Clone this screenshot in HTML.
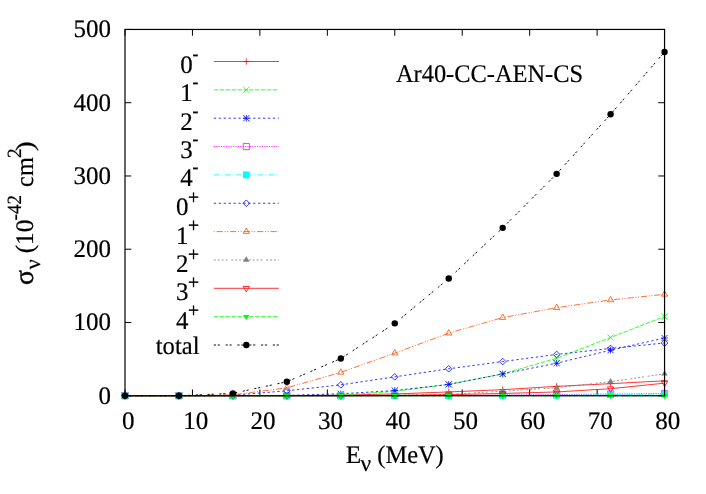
<!DOCTYPE html>
<html><head><meta charset="utf-8"><title>Ar40-CC-AEN-CS</title>
<style>html,body{margin:0;padding:0;background:#fff;}body{width:706px;height:494px;overflow:hidden;font-family:"Liberation Serif",serif;}svg{display:block;will-change:transform;}.t{font-family:"Liberation Serif",serif;font-size:25.3px;fill:#000;text-rendering:geometricPrecision;stroke:#000;stroke-width:0.2px;}.b{stroke-width:0.35px;}</style>
</head><body>
<svg width="706" height="494" viewBox="0 0 706 494">
<rect width="706" height="494" fill="#fff"/>
<g id="gfx">
<path d="M125.00 395.75V389.45M125.00 29.45V35.75M192.44 395.75V389.45M192.44 29.45V35.75M259.89 395.75V389.45M259.89 29.45V35.75M327.33 395.75V389.45M327.33 29.45V35.75M394.77 395.75V389.45M394.77 29.45V35.75M462.22 395.75V389.45M462.22 29.45V35.75M529.66 395.75V389.45M529.66 29.45V35.75M597.11 395.75V389.45M597.11 29.45V35.75M664.55 395.75V389.45M664.55 29.45V35.75M125.00 395.75H131.30M664.55 395.75H658.25M125.00 322.49H131.30M664.55 322.49H658.25M125.00 249.23H131.30M664.55 249.23H658.25M125.00 175.97H131.30M664.55 175.97H658.25M125.00 102.71H131.30M664.55 102.71H658.25M125.00 29.45H131.30M664.55 29.45H658.25" stroke="#000" stroke-width="1" fill="none"/>
<g><polyline points="125.00,395.75 178.95,395.75 232.91,395.75 286.87,395.60 340.82,395.16 394.77,393.92 448.73,391.94 502.68,389.67 556.64,386.37 610.60,383.66 664.55,380.80" fill="none" stroke="#ff0000" stroke-width="0.8"/>
<path d="M213.8 61.50H278.9" fill="none" stroke="#ff0000" stroke-width="0.8"/>
<path d="M121.80 395.75H128.20M125.00 392.55V398.95" stroke="#ff0000" stroke-width="0.8" fill="none"/>
<path d="M175.75 395.75H182.15M178.95 392.55V398.95" stroke="#ff0000" stroke-width="0.8" fill="none"/>
<path d="M229.71 395.75H236.11M232.91 392.55V398.95" stroke="#ff0000" stroke-width="0.8" fill="none"/>
<path d="M283.67 395.60H290.06M286.87 392.40V398.80" stroke="#ff0000" stroke-width="0.8" fill="none"/>
<path d="M337.62 395.16H344.02M340.82 391.96V398.36" stroke="#ff0000" stroke-width="0.8" fill="none"/>
<path d="M391.57 393.92H397.97M394.77 390.72V397.12" stroke="#ff0000" stroke-width="0.8" fill="none"/>
<path d="M445.53 391.94H451.93M448.73 388.74V395.14" stroke="#ff0000" stroke-width="0.8" fill="none"/>
<path d="M499.48 389.67H505.88M502.68 386.47V392.87" stroke="#ff0000" stroke-width="0.8" fill="none"/>
<path d="M553.44 386.37H559.84M556.64 383.17V389.57" stroke="#ff0000" stroke-width="0.8" fill="none"/>
<path d="M607.39 383.66H613.80M610.60 380.46V386.86" stroke="#ff0000" stroke-width="0.8" fill="none"/>
<path d="M661.35 380.80H667.75M664.55 377.60V384.00" stroke="#ff0000" stroke-width="0.8" fill="none"/>
<path d="M243.10 61.50H249.50M246.30 58.30V64.70" stroke="#ff0000" stroke-width="0.8" fill="none"/>
</g>
<g><polyline points="125.00,395.75 178.95,395.75 232.91,395.75 286.87,395.75 340.82,395.16 394.77,391.35 448.73,384.39 502.68,373.92 556.64,358.24 610.60,337.51 664.55,316.48" fill="none" stroke="#00ff00" stroke-width="0.8" stroke-dasharray="4.5 1.4"/>
<path d="M213.8 89.85H278.9" fill="none" stroke="#00ff00" stroke-width="0.8" stroke-dasharray="4.5 1.4"/>
<path d="M121.90 392.65L128.10 398.85M121.90 398.85L128.10 392.65" stroke="#00ff00" stroke-width="0.8" fill="none"/>
<path d="M175.85 392.65L182.05 398.85M175.85 398.85L182.05 392.65" stroke="#00ff00" stroke-width="0.8" fill="none"/>
<path d="M229.81 392.65L236.01 398.85M229.81 398.85L236.01 392.65" stroke="#00ff00" stroke-width="0.8" fill="none"/>
<path d="M283.76 392.65L289.97 398.85M283.76 398.85L289.97 392.65" stroke="#00ff00" stroke-width="0.8" fill="none"/>
<path d="M337.72 392.06L343.92 398.26M337.72 398.26L343.92 392.06" stroke="#00ff00" stroke-width="0.8" fill="none"/>
<path d="M391.67 388.25L397.88 394.45M391.67 394.45L397.88 388.25" stroke="#00ff00" stroke-width="0.8" fill="none"/>
<path d="M445.63 381.29L451.83 387.49M445.63 387.49L451.83 381.29" stroke="#00ff00" stroke-width="0.8" fill="none"/>
<path d="M499.58 370.82L505.78 377.02M499.58 377.02L505.78 370.82" stroke="#00ff00" stroke-width="0.8" fill="none"/>
<path d="M553.54 355.14L559.74 361.34M553.54 361.34L559.74 355.14" stroke="#00ff00" stroke-width="0.8" fill="none"/>
<path d="M607.50 334.41L613.70 340.61M607.50 340.61L613.70 334.41" stroke="#00ff00" stroke-width="0.8" fill="none"/>
<path d="M661.45 313.38L667.65 319.58M661.45 319.58L667.65 313.38" stroke="#00ff00" stroke-width="0.8" fill="none"/>
<path d="M243.20 86.75L249.40 92.95M243.20 92.95L249.40 86.75" stroke="#00ff00" stroke-width="0.8" fill="none"/>
</g>
<g><polyline points="125.00,395.75 178.95,395.75 232.91,395.75 286.87,395.38 340.82,393.77 394.77,390.55 448.73,384.39 502.68,373.92 556.64,363.22 610.60,350.18 664.55,338.02" fill="none" stroke="#0000ff" stroke-width="0.8" stroke-dasharray="2.3 2.62"/>
<path d="M213.8 118.20H278.9" fill="none" stroke="#0000ff" stroke-width="0.8" stroke-dasharray="2.3 2.62"/>
<path d="M121.90 392.65L128.10 398.85M121.90 398.85L128.10 392.65M121.70 395.75H128.30M125.00 392.45V399.05" stroke="#0000ff" stroke-width="0.8" fill="none"/>
<path d="M175.85 392.65L182.05 398.85M175.85 398.85L182.05 392.65M175.65 395.75H182.25M178.95 392.45V399.05" stroke="#0000ff" stroke-width="0.8" fill="none"/>
<path d="M229.81 392.65L236.01 398.85M229.81 398.85L236.01 392.65M229.61 395.75H236.21M232.91 392.45V399.05" stroke="#0000ff" stroke-width="0.8" fill="none"/>
<path d="M283.76 392.28L289.97 398.48M283.76 398.48L289.97 392.28M283.56 395.38H290.17M286.87 392.08V398.68" stroke="#0000ff" stroke-width="0.8" fill="none"/>
<path d="M337.72 390.67L343.92 396.87M337.72 396.87L343.92 390.67M337.52 393.77H344.12M340.82 390.47V397.07" stroke="#0000ff" stroke-width="0.8" fill="none"/>
<path d="M391.67 387.45L397.88 393.65M391.67 393.65L397.88 387.45M391.47 390.55H398.07M394.77 387.25V393.85" stroke="#0000ff" stroke-width="0.8" fill="none"/>
<path d="M445.63 381.29L451.83 387.49M445.63 387.49L451.83 381.29M445.43 384.39H452.03M448.73 381.09V387.69" stroke="#0000ff" stroke-width="0.8" fill="none"/>
<path d="M499.58 370.82L505.78 377.02M499.58 377.02L505.78 370.82M499.38 373.92H505.98M502.68 370.62V377.22" stroke="#0000ff" stroke-width="0.8" fill="none"/>
<path d="M553.54 360.12L559.74 366.32M553.54 366.32L559.74 360.12M553.34 363.22H559.94M556.64 359.92V366.52" stroke="#0000ff" stroke-width="0.8" fill="none"/>
<path d="M607.50 347.08L613.70 353.28M607.50 353.28L613.70 347.08M607.30 350.18H613.89M610.60 346.88V353.48" stroke="#0000ff" stroke-width="0.8" fill="none"/>
<path d="M661.45 334.92L667.65 341.12M661.45 341.12L667.65 334.92M661.25 338.02H667.85M664.55 334.72V341.32" stroke="#0000ff" stroke-width="0.8" fill="none"/>
<path d="M243.20 115.10L249.40 121.30M243.20 121.30L249.40 115.10M243.00 118.20H249.60M246.30 114.90V121.50" stroke="#0000ff" stroke-width="0.8" fill="none"/>
</g>
<g><polyline points="125.00,395.75 178.95,395.75 232.91,395.75 286.87,395.75 340.82,395.75 394.77,395.60 448.73,395.38 502.68,395.02 556.64,394.58 610.60,393.99 664.55,393.55" fill="none" stroke="#ff00ff" stroke-width="0.8" stroke-dasharray="1.2 1.2"/>
<path d="M213.8 146.55H278.9" fill="none" stroke="#ff00ff" stroke-width="0.8" stroke-dasharray="1.2 1.2"/>
<path d="M121.90 392.65H128.10V398.85H121.90Z" stroke="#ff00ff" stroke-width="0.8" fill="none"/>
<path d="M175.85 392.65H182.05V398.85H175.85Z" stroke="#ff00ff" stroke-width="0.8" fill="none"/>
<path d="M229.81 392.65H236.01V398.85H229.81Z" stroke="#ff00ff" stroke-width="0.8" fill="none"/>
<path d="M283.76 392.65H289.97V398.85H283.76Z" stroke="#ff00ff" stroke-width="0.8" fill="none"/>
<path d="M337.72 392.65H343.92V398.85H337.72Z" stroke="#ff00ff" stroke-width="0.8" fill="none"/>
<path d="M391.67 392.50H397.88V398.70H391.67Z" stroke="#ff00ff" stroke-width="0.8" fill="none"/>
<path d="M445.63 392.28H451.83V398.48H445.63Z" stroke="#ff00ff" stroke-width="0.8" fill="none"/>
<path d="M499.58 391.92H505.78V398.12H499.58Z" stroke="#ff00ff" stroke-width="0.8" fill="none"/>
<path d="M553.54 391.48H559.74V397.68H553.54Z" stroke="#ff00ff" stroke-width="0.8" fill="none"/>
<path d="M607.50 390.89H613.70V397.09H607.50Z" stroke="#ff00ff" stroke-width="0.8" fill="none"/>
<path d="M661.45 390.45H667.65V396.65H661.45Z" stroke="#ff00ff" stroke-width="0.8" fill="none"/>
<path d="M243.20 143.45H249.40V149.65H243.20Z" stroke="#ff00ff" stroke-width="0.8" fill="none"/>
</g>
<g><polyline points="125.00,395.75 178.95,395.75 232.91,395.75 286.87,395.75 340.82,395.75 394.77,395.75 448.73,395.60 502.68,395.46 556.64,395.16 610.60,394.65 664.55,394.07" fill="none" stroke="#00ffff" stroke-width="0.8" stroke-dasharray="5.9 2.0 1.0 2.0"/>
<path d="M213.8 174.90H278.9" fill="none" stroke="#00ffff" stroke-width="0.8" stroke-dasharray="5.9 2.0 1.0 2.0"/>
<path d="M121.60 392.35H128.40V399.15H121.60Z" stroke="none" stroke-width="0" fill="#00ffff"/>
<path d="M175.55 392.35H182.35V399.15H175.55Z" stroke="none" stroke-width="0" fill="#00ffff"/>
<path d="M229.51 392.35H236.31V399.15H229.51Z" stroke="none" stroke-width="0" fill="#00ffff"/>
<path d="M283.47 392.35H290.26V399.15H283.47Z" stroke="none" stroke-width="0" fill="#00ffff"/>
<path d="M337.42 392.35H344.22V399.15H337.42Z" stroke="none" stroke-width="0" fill="#00ffff"/>
<path d="M391.38 392.35H398.17V399.15H391.38Z" stroke="none" stroke-width="0" fill="#00ffff"/>
<path d="M445.33 392.20H452.13V399.00H445.33Z" stroke="none" stroke-width="0" fill="#00ffff"/>
<path d="M499.28 392.06H506.08V398.86H499.28Z" stroke="none" stroke-width="0" fill="#00ffff"/>
<path d="M553.24 391.76H560.04V398.56H553.24Z" stroke="none" stroke-width="0" fill="#00ffff"/>
<path d="M607.20 391.25H614.00V398.05H607.20Z" stroke="none" stroke-width="0" fill="#00ffff"/>
<path d="M661.15 390.67H667.95V397.47H661.15Z" stroke="none" stroke-width="0" fill="#00ffff"/>
<path d="M242.90 171.50H249.70V178.30H242.90Z" stroke="none" stroke-width="0" fill="#00ffff"/>
</g>
<g><polyline points="125.00,395.75 178.95,395.75 232.91,395.24 286.87,390.77 340.82,384.83 394.77,376.85 448.73,368.79 502.68,361.54 556.64,354.43 610.60,348.42 664.55,343.00" fill="none" stroke="#0000ff" stroke-width="0.8" stroke-dasharray="2.3 2.62"/>
<path d="M213.8 203.25H278.9" fill="none" stroke="#0000ff" stroke-width="0.8" stroke-dasharray="2.3 2.62"/>
<path d="M125.00 392.45L128.30 395.75L125.00 399.05L121.70 395.75Z" stroke="#0000ff" stroke-width="0.8" fill="none"/>
<path d="M178.95 392.45L182.25 395.75L178.95 399.05L175.65 395.75Z" stroke="#0000ff" stroke-width="0.8" fill="none"/>
<path d="M232.91 391.94L236.21 395.24L232.91 398.54L229.61 395.24Z" stroke="#0000ff" stroke-width="0.8" fill="none"/>
<path d="M286.87 387.47L290.17 390.77L286.87 394.07L283.56 390.77Z" stroke="#0000ff" stroke-width="0.8" fill="none"/>
<path d="M340.82 381.53L344.12 384.83L340.82 388.13L337.52 384.83Z" stroke="#0000ff" stroke-width="0.8" fill="none"/>
<path d="M394.77 373.55L398.07 376.85L394.77 380.15L391.47 376.85Z" stroke="#0000ff" stroke-width="0.8" fill="none"/>
<path d="M448.73 365.49L452.03 368.79L448.73 372.09L445.43 368.79Z" stroke="#0000ff" stroke-width="0.8" fill="none"/>
<path d="M502.68 358.24L505.98 361.54L502.68 364.84L499.38 361.54Z" stroke="#0000ff" stroke-width="0.8" fill="none"/>
<path d="M556.64 351.13L559.94 354.43L556.64 357.73L553.34 354.43Z" stroke="#0000ff" stroke-width="0.8" fill="none"/>
<path d="M610.60 345.12L613.89 348.42L610.60 351.72L607.30 348.42Z" stroke="#0000ff" stroke-width="0.8" fill="none"/>
<path d="M664.55 339.70L667.85 343.00L664.55 346.30L661.25 343.00Z" stroke="#0000ff" stroke-width="0.8" fill="none"/>
<path d="M246.30 199.95L249.60 203.25L246.30 206.55L243.00 203.25Z" stroke="#0000ff" stroke-width="0.8" fill="none"/>
</g>
<g><polyline points="125.00,395.75 178.95,395.75 232.91,394.87 286.87,387.84 340.82,372.38 394.77,353.11 448.73,333.19 502.68,317.58 556.64,307.69 610.60,299.93 664.55,294.36" fill="none" stroke="#ff4d00" stroke-width="0.8" stroke-dasharray="6.2 1.7 1.1 1.5 1.1 1.9" stroke-dashoffset="10.7"/>
<path d="M213.8 231.60H278.9" fill="none" stroke="#ff4d00" stroke-width="0.8" stroke-dasharray="6.2 1.7 1.1 1.5 1.1 1.9" stroke-dashoffset="10.7"/>
<path d="M125.00 392.15L128.15 397.55L121.85 397.55Z" stroke="#ff4d00" stroke-width="0.8" fill="none"/>
<path d="M178.95 392.15L182.10 397.55L175.80 397.55Z" stroke="#ff4d00" stroke-width="0.8" fill="none"/>
<path d="M232.91 391.27L236.06 396.67L229.76 396.67Z" stroke="#ff4d00" stroke-width="0.8" fill="none"/>
<path d="M286.87 384.24L290.01 389.64L283.72 389.64Z" stroke="#ff4d00" stroke-width="0.8" fill="none"/>
<path d="M340.82 368.78L343.97 374.18L337.67 374.18Z" stroke="#ff4d00" stroke-width="0.8" fill="none"/>
<path d="M394.77 349.51L397.92 354.91L391.62 354.91Z" stroke="#ff4d00" stroke-width="0.8" fill="none"/>
<path d="M448.73 329.59L451.88 334.99L445.58 334.99Z" stroke="#ff4d00" stroke-width="0.8" fill="none"/>
<path d="M502.68 313.98L505.83 319.38L499.53 319.38Z" stroke="#ff4d00" stroke-width="0.8" fill="none"/>
<path d="M556.64 304.09L559.79 309.49L553.49 309.49Z" stroke="#ff4d00" stroke-width="0.8" fill="none"/>
<path d="M610.60 296.33L613.75 301.73L607.45 301.73Z" stroke="#ff4d00" stroke-width="0.8" fill="none"/>
<path d="M664.55 290.76L667.70 296.16L661.40 296.16Z" stroke="#ff4d00" stroke-width="0.8" fill="none"/>
<path d="M246.30 228.00L249.45 233.40L243.15 233.40Z" stroke="#ff4d00" stroke-width="0.8" fill="none"/>
</g>
<g><polyline points="125.00,395.75 178.95,395.75 232.91,395.75 286.87,395.75 340.82,395.60 394.77,395.24 448.73,394.36 502.68,391.21 556.64,387.69 610.60,381.68 664.55,373.85" fill="none" stroke="#808080" stroke-width="0.8" stroke-dasharray="2.1 1.8 2.1 1.8 2.1 1.8 2.1 3.65"/>
<path d="M213.8 259.95H278.9" fill="none" stroke="#808080" stroke-width="0.8" stroke-dasharray="2.1 1.8 2.1 1.8 2.1 1.8 2.1 3.65"/>
<path d="M125.00 392.15L128.20 397.45L121.80 397.45Z" stroke="none" stroke-width="0" fill="#808080"/>
<path d="M178.95 392.15L182.15 397.45L175.75 397.45Z" stroke="none" stroke-width="0" fill="#808080"/>
<path d="M232.91 392.15L236.11 397.45L229.71 397.45Z" stroke="none" stroke-width="0" fill="#808080"/>
<path d="M286.87 392.15L290.06 397.45L283.67 397.45Z" stroke="none" stroke-width="0" fill="#808080"/>
<path d="M340.82 392.00L344.02 397.30L337.62 397.30Z" stroke="none" stroke-width="0" fill="#808080"/>
<path d="M394.77 391.64L397.97 396.94L391.57 396.94Z" stroke="none" stroke-width="0" fill="#808080"/>
<path d="M448.73 390.76L451.93 396.06L445.53 396.06Z" stroke="none" stroke-width="0" fill="#808080"/>
<path d="M502.68 387.61L505.88 392.91L499.48 392.91Z" stroke="none" stroke-width="0" fill="#808080"/>
<path d="M556.64 384.09L559.84 389.39L553.44 389.39Z" stroke="none" stroke-width="0" fill="#808080"/>
<path d="M610.60 378.08L613.80 383.38L607.39 383.38Z" stroke="none" stroke-width="0" fill="#808080"/>
<path d="M664.55 370.25L667.75 375.55L661.35 375.55Z" stroke="none" stroke-width="0" fill="#808080"/>
<path d="M246.30 256.35L249.50 261.65L243.10 261.65Z" stroke="none" stroke-width="0" fill="#808080"/>
</g>
<g><polyline points="125.00,395.75 178.95,395.75 232.91,395.75 286.87,395.75 340.82,395.75 394.77,395.38 448.73,394.65 502.68,393.48 556.64,391.94 610.60,388.72 664.55,383.15" fill="none" stroke="#ff0000" stroke-width="0.8"/>
<path d="M213.8 288.30H278.9" fill="none" stroke="#ff0000" stroke-width="0.8"/>
<path d="M125.00 399.35L128.15 393.95L121.85 393.95Z" stroke="#ff0000" stroke-width="0.8" fill="none"/>
<path d="M178.95 399.35L182.10 393.95L175.80 393.95Z" stroke="#ff0000" stroke-width="0.8" fill="none"/>
<path d="M232.91 399.35L236.06 393.95L229.76 393.95Z" stroke="#ff0000" stroke-width="0.8" fill="none"/>
<path d="M286.87 399.35L290.01 393.95L283.72 393.95Z" stroke="#ff0000" stroke-width="0.8" fill="none"/>
<path d="M340.82 399.35L343.97 393.95L337.67 393.95Z" stroke="#ff0000" stroke-width="0.8" fill="none"/>
<path d="M394.77 398.98L397.92 393.58L391.62 393.58Z" stroke="#ff0000" stroke-width="0.8" fill="none"/>
<path d="M448.73 398.25L451.88 392.85L445.58 392.85Z" stroke="#ff0000" stroke-width="0.8" fill="none"/>
<path d="M502.68 397.08L505.83 391.68L499.53 391.68Z" stroke="#ff0000" stroke-width="0.8" fill="none"/>
<path d="M556.64 395.54L559.79 390.14L553.49 390.14Z" stroke="#ff0000" stroke-width="0.8" fill="none"/>
<path d="M610.60 392.32L613.75 386.92L607.45 386.92Z" stroke="#ff0000" stroke-width="0.8" fill="none"/>
<path d="M664.55 386.75L667.70 381.35L661.40 381.35Z" stroke="#ff0000" stroke-width="0.8" fill="none"/>
<path d="M246.30 291.90L249.45 286.50L243.15 286.50Z" stroke="#ff0000" stroke-width="0.8" fill="none"/>
</g>
<g><polyline points="125.00,395.75 178.95,395.75 232.91,395.75 286.87,395.75 340.82,395.75 394.77,395.75 448.73,395.75 502.68,395.75 556.64,395.75 610.60,395.75 664.55,395.75" fill="none" stroke="#00ff00" stroke-width="0.8" stroke-dasharray="4.5 1.4"/>
<path d="M213.8 316.65H278.9" fill="none" stroke="#00ff00" stroke-width="0.8" stroke-dasharray="4.5 1.4"/>
<path d="M125.00 399.35L128.20 394.05L121.80 394.05Z" stroke="none" stroke-width="0" fill="#00ff00"/>
<path d="M178.95 399.35L182.15 394.05L175.75 394.05Z" stroke="none" stroke-width="0" fill="#00ff00"/>
<path d="M232.91 399.35L236.11 394.05L229.71 394.05Z" stroke="none" stroke-width="0" fill="#00ff00"/>
<path d="M286.87 399.35L290.06 394.05L283.67 394.05Z" stroke="none" stroke-width="0" fill="#00ff00"/>
<path d="M340.82 399.35L344.02 394.05L337.62 394.05Z" stroke="none" stroke-width="0" fill="#00ff00"/>
<path d="M394.77 399.35L397.97 394.05L391.57 394.05Z" stroke="none" stroke-width="0" fill="#00ff00"/>
<path d="M448.73 399.35L451.93 394.05L445.53 394.05Z" stroke="none" stroke-width="0" fill="#00ff00"/>
<path d="M502.68 399.35L505.88 394.05L499.48 394.05Z" stroke="none" stroke-width="0" fill="#00ff00"/>
<path d="M556.64 399.35L559.84 394.05L553.44 394.05Z" stroke="none" stroke-width="0" fill="#00ff00"/>
<path d="M610.60 399.35L613.80 394.05L607.39 394.05Z" stroke="none" stroke-width="0" fill="#00ff00"/>
<path d="M664.55 399.35L667.75 394.05L661.35 394.05Z" stroke="none" stroke-width="0" fill="#00ff00"/>
<path d="M246.30 320.25L249.50 314.95L243.10 314.95Z" stroke="none" stroke-width="0" fill="#00ff00"/>
</g>
<g><polyline points="125.00,395.75 178.95,395.75 232.91,393.33 286.87,381.76 340.82,358.53 394.77,323.37 448.73,278.53 502.68,227.84 556.64,173.85 610.60,114.29 664.55,52.01" fill="none" stroke="#000000" stroke-width="0.95" stroke-dasharray="2.2 1.7 2.2 5.7"/>
<path d="M213.8 345.00H278.9" fill="none" stroke="#000000" stroke-width="0.95" stroke-dasharray="2.2 1.7 2.2 5.7"/>
<circle cx="125.00" cy="395.75" r="3.2" fill="#000000"/>
<circle cx="178.95" cy="395.75" r="3.2" fill="#000000"/>
<circle cx="232.91" cy="393.33" r="3.2" fill="#000000"/>
<circle cx="286.87" cy="381.76" r="3.2" fill="#000000"/>
<circle cx="340.82" cy="358.53" r="3.2" fill="#000000"/>
<circle cx="394.77" cy="323.37" r="3.2" fill="#000000"/>
<circle cx="448.73" cy="278.53" r="3.2" fill="#000000"/>
<circle cx="502.68" cy="227.84" r="3.2" fill="#000000"/>
<circle cx="556.64" cy="173.85" r="3.2" fill="#000000"/>
<circle cx="610.60" cy="114.29" r="3.2" fill="#000000"/>
<circle cx="664.55" cy="52.01" r="3.2" fill="#000000"/>
<circle cx="246.30" cy="345.00" r="3.2" fill="#000000"/>
</g>
<rect x="125.0" y="29.45" width="539.55" height="366.30" fill="none" stroke="#000" stroke-width="1.2"/>
</g>
<g class="t" id="txt">
<text id="yt0" transform="translate(110.90 403.65) scale(0.9850 1.0000)" text-anchor="end">0</text>
<text id="yt100" transform="translate(110.90 330.39) scale(0.9850 1.0000)" text-anchor="end">100</text>
<text id="yt200" transform="translate(110.90 257.13) scale(0.9850 1.0000)" text-anchor="end">200</text>
<text id="yt300" transform="translate(110.90 183.87) scale(0.9850 1.0000)" text-anchor="end">300</text>
<text id="yt400" transform="translate(110.90 110.61) scale(0.9850 1.0000)" text-anchor="end">400</text>
<text id="yt500" transform="translate(110.90 37.35) scale(0.9850 1.0000)" text-anchor="end">500</text>
<text id="xt0" transform="translate(128.20 428.60) scale(0.9900 1.0000)" text-anchor="middle">0</text>
<text id="xt10" transform="translate(195.64 428.60) scale(0.9900 1.0000)" text-anchor="middle">10</text>
<text id="xt20" transform="translate(263.09 428.60) scale(0.9900 1.0000)" text-anchor="middle">20</text>
<text id="xt30" transform="translate(330.53 428.60) scale(0.9900 1.0000)" text-anchor="middle">30</text>
<text id="xt40" transform="translate(397.97 428.60) scale(0.9900 1.0000)" text-anchor="middle">40</text>
<text id="xt50" transform="translate(465.42 428.60) scale(0.9900 1.0000)" text-anchor="middle">50</text>
<text id="xt60" transform="translate(532.86 428.60) scale(0.9900 1.0000)" text-anchor="middle">60</text>
<text id="xt70" transform="translate(600.31 428.60) scale(0.9900 1.0000)" text-anchor="middle">70</text>
<text id="xt80" transform="translate(667.75 428.60) scale(0.9900 1.0000)" text-anchor="middle">80</text>
<text id="lg0d" transform="translate(192.80 73.00) scale(0.9850 1.0000)" text-anchor="end">0</text>
<text id="lg0s" transform="translate(192.40 60.00) scale(0.9000 1.0000)" font-size="19.5" class="b">-</text>
<text id="lg1d" transform="translate(192.80 101.35) scale(0.9850 1.0000)" text-anchor="end">1</text>
<text id="lg1s" transform="translate(192.40 88.35) scale(0.9000 1.0000)" font-size="19.5" class="b">-</text>
<text id="lg2d" transform="translate(192.80 129.70) scale(0.9850 1.0000)" text-anchor="end">2</text>
<text id="lg2s" transform="translate(192.40 116.70) scale(0.9000 1.0000)" font-size="19.5" class="b">-</text>
<text id="lg3d" transform="translate(192.80 158.05) scale(0.9850 1.0000)" text-anchor="end">3</text>
<text id="lg3s" transform="translate(192.40 145.05) scale(0.9000 1.0000)" font-size="19.5" class="b">-</text>
<text id="lg4d" transform="translate(192.80 186.40) scale(0.9850 1.0000)" text-anchor="end">4</text>
<text id="lg4s" transform="translate(192.40 173.40) scale(0.9000 1.0000)" font-size="19.5" class="b">-</text>
<text id="lg5d" transform="translate(188.50 215.15) scale(0.9850 1.0000)" text-anchor="end">0</text>
<text id="lg5s" transform="translate(188.10 204.05) scale(0.9700 1.0000)" font-size="20.2" class="b">+</text>
<text id="lg6d" transform="translate(188.50 243.50) scale(0.9850 1.0000)" text-anchor="end">1</text>
<text id="lg6s" transform="translate(188.10 232.40) scale(0.9700 1.0000)" font-size="20.2" class="b">+</text>
<text id="lg7d" transform="translate(188.50 271.85) scale(0.9850 1.0000)" text-anchor="end">2</text>
<text id="lg7s" transform="translate(188.10 260.75) scale(0.9700 1.0000)" font-size="20.2" class="b">+</text>
<text id="lg8d" transform="translate(188.50 300.20) scale(0.9850 1.0000)" text-anchor="end">3</text>
<text id="lg8s" transform="translate(188.10 289.10) scale(0.9700 1.0000)" font-size="20.2" class="b">+</text>
<text id="lg9d" transform="translate(188.50 328.55) scale(0.9850 1.0000)" text-anchor="end">4</text>
<text id="lg9s" transform="translate(188.10 317.45) scale(0.9700 1.0000)" font-size="20.2" class="b">+</text>
<text id="lgtotal" transform="translate(199.50 354.40) scale(0.9720 1.0000)" text-anchor="end">total</text>
<text id="title" transform="translate(396.00 81.90) scale(0.9640 1.0000)">Ar40-CC-AEN-CS</text>
<text id="xlE" transform="translate(345.70 463.30)">E</text>
<text id="xlnu" transform="translate(360.60 470.50)" font-size="23.5">ν</text>
<text id="xlMeV" transform="translate(377.30 463.30) scale(0.9650 1.0000)">(MeV)</text>
<text id="ylsig" transform="translate(32.90 284.90) rotate(-90) scale(1.1000 1.0800)" class="b">σ</text>
<text id="ylnu" transform="translate(40.20 269.30) rotate(-90)" font-size="22">ν</text>
<text id="yl10" transform="translate(32.90 253.30) rotate(-90)">(10</text>
<text id="ylm42" transform="translate(21.30 220.40) rotate(-90) scale(0.9400 1.0000)" font-size="20.2">-42</text>
<text id="ylcm" transform="translate(32.90 186.90) rotate(-90) scale(0.9600 1.0000)">cm</text>
<text id="yl2" transform="translate(20.90 157.90) rotate(-90) scale(0.9500 1.0000)" font-size="20.2">2</text>
<text id="ylrp" transform="translate(32.90 151.30) rotate(-90) scale(1.2000 1.0000)">)</text>
</g>
</svg>
</body></html>
